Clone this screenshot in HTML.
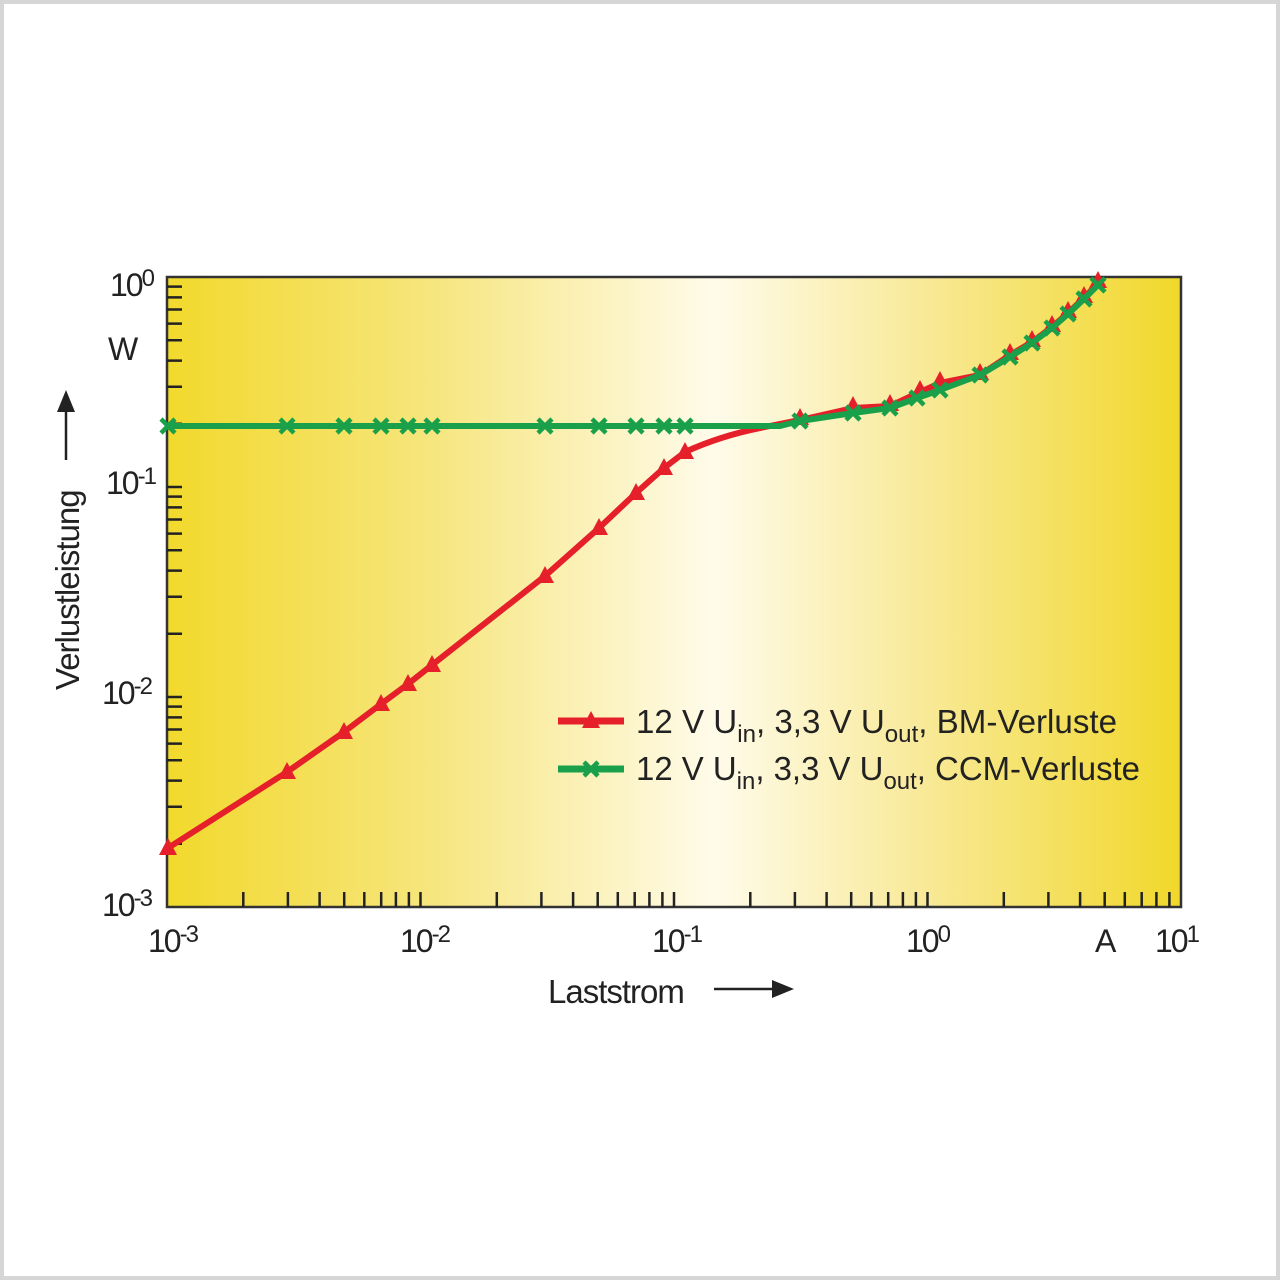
<!DOCTYPE html>
<html><head><meta charset="utf-8"><style>
html,body{margin:0;padding:0;background:#fff;}
svg{display:block;}
text{font-family:"Liberation Sans",sans-serif;fill:#222;}
</style></head><body>
<svg width="1280" height="1280" viewBox="0 0 1280 1280" xmlns="http://www.w3.org/2000/svg">
<defs>
<linearGradient id="bg" x1="0" x2="1" y1="0" y2="0">
<stop offset="0" stop-color="#f2d92c"/>
<stop offset="0.25" stop-color="#f6e57a"/>
<stop offset="0.54" stop-color="#fffbea"/>
<stop offset="0.75" stop-color="#f8e996"/>
<stop offset="1" stop-color="#f1d82a"/>
</linearGradient>
<path id="tri" d="M0,-10 L9,7 L-9,7 Z" fill="#e5202a"/>
<g id="star"><path d="M-7,-7 L7,7 M-7,7 L7,-7" stroke="#1aa04a" stroke-width="4.5"/></g>
</defs>
<rect x="2" y="2" width="1276" height="1276" fill="#fff" stroke="#d6d6d6" stroke-width="4"/>
<rect x="167" y="277" width="1014" height="630" fill="url(#bg)" stroke="#333" stroke-width="2.5"/>
<g stroke="#222" stroke-width="2.5">
<path d="M243.3,907v-15M287.9,907v-15M319.6,907v-15M344.2,907v-15M364.3,907v-15M381.2,907v-15M395.9,907v-15M408.9,907v-15M420.5,907v-15
M496.8,907v-15M541.4,907v-15M573.1,907v-15M597.7,907v-15M617.8,907v-15M634.7,907v-15M649.4,907v-15M662.4,907v-15M674,907v-15
M750.3,907v-15M794.9,907v-15M826.6,907v-15M851.2,907v-15M871.3,907v-15M888.2,907v-15M902.9,907v-15M915.9,907v-15M927.5,907v-15
M1003.8,907v-15M1048.4,907v-15M1080.1,907v-15M1104.7,907v-15M1124.8,907v-15M1141.7,907v-15M1156.4,907v-15M1169.4,907v-15"/>
<path d="M167,843.8h15M167,806.8h15M167,780.6h15M167,760.2h15M167,743.6h15M167,729.5h15M167,717.4h15M167,706.6h15M167,697h15
M167,633.8h15M167,596.8h15M167,570.6h15M167,550.2h15M167,533.6h15M167,519.5h15M167,507.4h15M167,496.6h15M167,487h15
M167,423.8h15M167,386.8h15M167,360.6h15M167,340.2h15M167,323.6h15M167,309.5h15M167,297.4h15M167,286.6h15"/>
</g>
<!-- red series -->
<path fill="none" stroke="#e5202a" stroke-width="6" stroke-linejoin="round" d="M168,848 L287,772 L344,732 L381,704 L408,684 L432,665 L545,576 L599,528 L636,493 L664,468 L685,452 Q720,436 760,428 L800,420 L853,408 L890,406 L920,392 L940,383 L980,375 L1010,355 L1032,342 L1052,327 L1068,313 L1084,298 L1098,283"/>
<g>
<use href="#tri" x="168" y="848"/><use href="#tri" x="287" y="772"/><use href="#tri" x="344" y="732"/><use href="#tri" x="381" y="704"/><use href="#tri" x="408" y="684"/><use href="#tri" x="432" y="665"/><use href="#tri" x="545" y="576"/><use href="#tri" x="599" y="528"/><use href="#tri" x="636" y="493"/><use href="#tri" x="664" y="468"/><use href="#tri" x="685" y="452"/><use href="#tri" x="800" y="418"/><use href="#tri" x="853" y="406"/><use href="#tri" x="890" y="404"/><use href="#tri" x="920" y="390"/><use href="#tri" x="940" y="381"/><use href="#tri" x="980" y="373"/><use href="#tri" x="1010" y="353"/><use href="#tri" x="1032" y="340"/><use href="#tri" x="1052" y="325"/><use href="#tri" x="1068" y="311"/><use href="#tri" x="1084" y="296"/><use href="#tri" x="1098" y="281"/>
</g>
<!-- green series -->
<polyline fill="none" stroke="#1aa04a" stroke-width="6" stroke-linejoin="round" points="168,426 780,426 800,421 853,413 890,408 917,398 940,390 980,375 1010,357 1032,343 1052,328 1068,314 1084,299 1098,285"/>
<g>
<use href="#star" x="168" y="426"/><use href="#star" x="287" y="426"/><use href="#star" x="344" y="426"/><use href="#star" x="381" y="426"/><use href="#star" x="408" y="426"/><use href="#star" x="432" y="426"/><use href="#star" x="545" y="426"/><use href="#star" x="599" y="426"/><use href="#star" x="636" y="426"/><use href="#star" x="664" y="426"/><use href="#star" x="685" y="426"/><use href="#star" x="800" y="421"/><use href="#star" x="853" y="413"/><use href="#star" x="890" y="408"/><use href="#star" x="917" y="398"/><use href="#star" x="940" y="390"/><use href="#star" x="980" y="375"/><use href="#star" x="1010" y="357"/><use href="#star" x="1032" y="343"/><use href="#star" x="1052" y="328"/><use href="#star" x="1068" y="314"/><use href="#star" x="1084" y="299"/><use href="#star" x="1098" y="285"/>
</g>
<!-- legend -->
<line x1="558" y1="721" x2="624" y2="721" stroke="#e5202a" stroke-width="7"/>
<use href="#tri" x="591" y="721"/>
<line x1="558" y1="769" x2="624" y2="769" stroke="#1aa04a" stroke-width="7"/>
<use href="#star" x="591" y="769"/>
<text x="636" y="733" font-size="33" textLength="481" lengthAdjust="spacingAndGlyphs">12 V U<tspan font-size="24" dy="9">in</tspan><tspan dy="-9">, 3,3 V U</tspan><tspan font-size="24" dy="9">out</tspan><tspan dy="-9">, BM-Verluste</tspan></text>
<text x="636" y="780" font-size="33" textLength="504" lengthAdjust="spacingAndGlyphs">12 V U<tspan font-size="24" dy="9">in</tspan><tspan dy="-9">, 3,3 V U</tspan><tspan font-size="24" dy="9">out</tspan><tspan dy="-9">, CCM-Verluste</tspan></text>
<!-- labels -->
<g font-size="32" letter-spacing="-2">
<text x="110" y="296">10<tspan font-size="24" dy="-10">0</tspan></text>
<text x="108" y="360">W</text>
<text x="106" y="494">10<tspan font-size="24" dy="-10">-1</tspan></text>
<text x="102" y="704">10<tspan font-size="24" dy="-10">-2</tspan></text>
<text x="102" y="916">10<tspan font-size="24" dy="-10">-3</tspan></text>
<text x="148" y="952">10<tspan font-size="24" dy="-10">-3</tspan></text>
<text x="400" y="952">10<tspan font-size="24" dy="-10">-2</tspan></text>
<text x="652" y="952">10<tspan font-size="24" dy="-10">-1</tspan></text>
<text x="906" y="952">10<tspan font-size="24" dy="-10">0</tspan></text>
<text x="1095" y="952">A</text>
<text x="1155" y="952">10<tspan font-size="24" dy="-10">1</tspan></text>
</g>
<text x="548" y="1003" font-size="33" letter-spacing="-1">Laststrom</text>
<line x1="714" y1="989" x2="776" y2="989" stroke="#222" stroke-width="2.5"/>
<path d="M794,989 L772,980 L772,998 Z" fill="#222"/>
<text transform="translate(79,690) rotate(-90)" font-size="33" letter-spacing="-1">Verlustleistung</text>
<line x1="66" y1="460" x2="66" y2="408" stroke="#222" stroke-width="2.5"/>
<path d="M66,390 L57,412 L75,412 Z" fill="#222"/>
</svg>
</body></html>
